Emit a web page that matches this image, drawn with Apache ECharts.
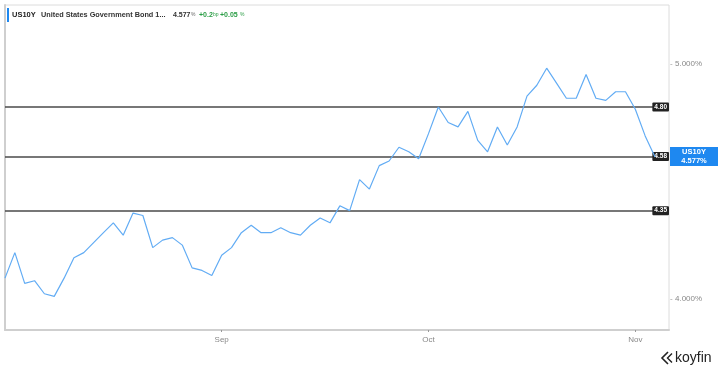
<!DOCTYPE html>
<html>
<head>
<meta charset="utf-8">
<script src="https://cdn.jsdelivr.net/npm/echarts@6/dist/echarts.min.js"></script>
<style>
html,body{margin:0;padding:0;background:#fff;}
#chart{width:720px;height:372px;}
</style>
</head>
<body>
<div id="chart"></div>
<script>
// Trading dates (category values)
const dates = [
  '2023-08-02','2023-08-03','2023-08-04','2023-08-07','2023-08-08','2023-08-09','2023-08-10','2023-08-11',
  '2023-08-14','2023-08-15','2023-08-16','2023-08-17','2023-08-18','2023-08-21','2023-08-22','2023-08-23',
  '2023-08-24','2023-08-25','2023-08-28','2023-08-29','2023-08-30','2023-08-31',
  '2023-09-01','2023-09-04','2023-09-05','2023-09-06','2023-09-07','2023-09-08','2023-09-11','2023-09-12',
  '2023-09-13','2023-09-14','2023-09-15','2023-09-18','2023-09-19','2023-09-20','2023-09-21','2023-09-22',
  '2023-09-25','2023-09-26','2023-09-27','2023-09-28','2023-09-29',
  '2023-10-02','2023-10-03','2023-10-04','2023-10-05','2023-10-06','2023-10-10','2023-10-11','2023-10-12',
  '2023-10-13','2023-10-16','2023-10-17','2023-10-18','2023-10-19','2023-10-20','2023-10-23','2023-10-24',
  '2023-10-25','2023-10-26','2023-10-27','2023-10-30','2023-10-31',
  '2023-11-01','2023-11-02','2023-11-03'
];
// US10Y yield (%)
const yieldsAug = [4.08,4.18,4.06,4.07,4.02,4.01,4.08,4.16,4.18,4.22,4.26,4.30,4.25,4.34,4.33,4.20,4.23,4.24,4.21,4.12,4.11,4.09];
const yieldsSep = [4.17,4.20,4.26,4.29,4.26,4.26,4.28,4.26,4.25,4.29,4.32,4.30,4.37,4.35,4.48,4.44,4.54,4.56,4.62,4.60,4.57];
const yieldsOct = [4.68,4.80,4.73,4.71,4.78,4.65,4.60,4.71,4.63,4.71,4.85,4.90,4.98,4.91,4.84,4.84,4.95,4.84,4.83,4.87,4.87];
const yieldsNov = [4.79,4.67,4.577];
const yields = yieldsAug.concat(yieldsSep, yieldsOct, yieldsNov);

// Horizontal reference levels
const levels = [4.80, 4.58, 4.35];
// Y tick values and month names
const yTicks = [4, 5];
const monthNames = ['Jan','Feb','Mar','Apr','May','Jun','Jul','Aug','Sep','Oct','Nov','Dec'];

// month start indices (first trading day of each new month)
const monthStarts = [];
for (let i = 1; i < dates.length; i++) {
  if (dates[i].slice(5,7) !== dates[i-1].slice(5,7)) monthStarts.push(i);
}
const seriesData = yields.map((v, i) => [i, v]);
const last = yields[yields.length - 1];

const chart = echarts.init(document.getElementById('chart'), null, {renderer: 'canvas'});
const FONT = '"Liberation Sans", Arial, Helvetica, sans-serif';

const markData = levels.map(v => ({
  yAxis: v,
  lineStyle: {color: '#4a4a4a', width: 1.5, type: 'solid'},
  label: {
    show: true, position: 'insideEnd', distance: 0,
    formatter: v.toFixed(2),
    color: '#fff', backgroundColor: '#222', fontSize: 6.5, fontWeight: 'bold',
    fontFamily: FONT, padding: [1, 2, 1, 2], borderRadius: 1
  }
}));
markData.push({
  yAxis: last,
  lineStyle: {color: 'rgba(0,0,0,0)', width: 1, type: 'solid'},
  label: {
    show: true, position: 'end', distance: 1,
    formatter: '{a|US10Y}\n{a|' + last.toFixed(3) + '%}',
    backgroundColor: '#1e88f0', padding: [1, 3, 1, 3],
    rich: {a: {width: 42, align: 'center', color: '#fff', fontSize: 7.5, fontWeight: 'bold', fontFamily: FONT, lineHeight: 8.5}}
  }
});

const hdr = (x, text, size, color, bold) => ({
  type: 'text', x: x, y: 15,
  style: {text: text, fontSize: size, fontWeight: bold ? 'bold' : 'normal', fill: color, fontFamily: FONT, verticalAlign: 'middle'}
});

chart.setOption({
  animation: false,
  backgroundColor: '#fff',
  grid: {left: 5, right: 51, top: 5, bottom: 42, show: true, borderColor: '#dcdcdc', borderWidth: 1},
  xAxis: {
    type: 'value', min: 0, max: 67.42,
    splitLine: {show: false},
    axisLine: {show: true, lineStyle: {color: '#cfcfcf', width: 2}},
    axisTick: {show: true, customValues: monthStarts, length: 2, lineStyle: {color: '#999'}},
    axisLabel: {
      customValues: monthStarts, color: '#888', fontSize: 8, fontFamily: FONT, margin: 6,
      formatter: v => monthNames[parseInt(dates[Math.round(v)].slice(5,7), 10) - 1]
    }
  },
  yAxis: {
    type: 'log', logBase: 10, position: 'right', min: 3.884, max: 5.288,
    splitLine: {show: false},
    axisLine: {show: true, lineStyle: {color: '#cfcfcf', width: 2}},
    axisTick: {show: false},
    axisLabel: {
      customValues: yTicks, color: '#888', fontSize: 8, fontFamily: FONT, margin: 1,
      formatter: v => '{t|-}' + Number(v).toFixed(3) + '%',
      rich: {t: {width: 5, color: '#999', fontSize: 8, fontFamily: FONT}}
    }
  },
  series: [{
    type: 'line',
    data: seriesData,
    showSymbol: false,
    symbol: 'none',
    lineStyle: {color: '#62acf4', width: 1.2},
    z: 3,
    markLine: {silent: true, symbol: 'none', data: markData, z: 2}
  }],
  graphic: [
    {type: 'rect', shape: {x: 7, y: 8, width: 2, height: 14}, style: {fill: '#1e88f0'}},
    hdr(12, 'US10Y', 7.5, '#222', true),
    hdr(41, 'United States Government Bond 1...', 7.3, '#333', true),
    hdr(173, '4.577', 7, '#333', true),
    hdr(191, '%', 5, '#666', false),
    hdr(199, '+0.2', 7, '#2a9d45', true),
    hdr(213, 'bp', 5, '#2a9d45', false),
    hdr(220, '+0.05', 7, '#2a9d45', true),
    hdr(240, '%', 5, '#2a9d45', false),
    {type: 'polyline', shape: {points: [[668, 352], [662, 358], [668, 364]]}, style: {stroke: '#222', lineWidth: 1.6, fill: null}},
    {type: 'polyline', shape: {points: [[672, 353.5], [667.5, 358], [672, 362.5]]}, style: {stroke: '#222', lineWidth: 1.4, fill: null}},
    {type: 'text', x: 675, y: 358, style: {text: 'koyfin', fontSize: 14, fill: '#222', fontFamily: FONT, verticalAlign: 'middle'}}
  ]
});
</script>
</body>
</html>
